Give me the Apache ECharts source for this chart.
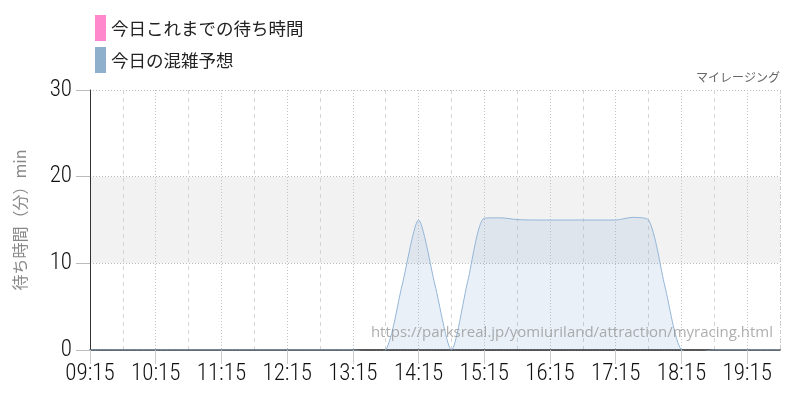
<!DOCTYPE html>
<html>
<head>
<meta charset="utf-8">
<script src="https://cdn.jsdelivr.net/npm/echarts@6/dist/echarts.min.js"></script>
<style>html,body{margin:0;padding:0;background:#fff}#c{width:800px;height:400px}</style>
</head>
<body>
<div id="c"></div>
<script>
// 15-minute time slots from 09:15 to 19:45
var times = ['09:15','09:30','09:45','10:00','10:15','10:30','10:45','11:00','11:15','11:30','11:45','12:00',
  '12:15','12:30','12:45','13:00','13:15','13:30','13:45','14:00','14:15','14:30','14:45','15:00',
  '15:15','15:30','15:45','16:00','16:15','16:30','16:45','17:00','17:15','17:30','17:45','18:00',
  '18:15','18:30','18:45','19:00','19:15','19:30','19:45'];
// 今日これまでの待ち時間 (no values shown)
var actualWait = [];
// 今日の混雑予想
var forecast = [0,0,0,0,0,0,0,0,0,0,0,0,
  0,0,0,0,0,-0.3,0,7.5,15,7.5,0,8,
  15.2,15.25,15.05,15,15,15,15,15,15,15.3,15,7.3,
  0,-0.25,0,0,0,0,0];
var yTicks = [0,10,20,30];
var seriesNames = ['今日これまでの待ち時間','今日の混雑予想'];

var numFont = '"Roboto Condensed","Liberation Sans Narrow","DejaVu Sans Condensed",sans-serif';
var jpFont = '"Noto Sans CJK JP","Noto Sans",sans-serif';

var chart = echarts.init(document.getElementById('c'));
chart.setOption({
  animation: false,
  backgroundColor: '#fff',
  grid: {left: 90, right: 20, top: 90, bottom: 50},
  legend: {
    orient: 'vertical', left: 95, top: 15, padding: 0,
    itemWidth: 11, itemHeight: 26, itemGap: 6,
    icon: 'rect',
    textStyle: {fontFamily: jpFont, fontSize: 17.5, color: '#222'},
    data: seriesNames
  },
  graphic: [
    {type: 'text', right: 20, top: 71, style: {text: 'マイレージング', fontFamily: jpFont, fontSize: 12, fill: '#666'}},
    {type: 'text', right: 27, top: 325, z: 100, style: {text: 'https://parksreal.jp/yomiuriland/attraction/myracing.html', fontFamily: '"Open Sans","Noto Sans",sans-serif', fontSize: 15, fill: 'rgba(140,140,140,0.7)'}}
  ],
  xAxis: [{
    type: 'category', data: times, boundaryGap: false,
    axisLine: {lineStyle: {color: '#222', width: 1.5}},
    axisTick: {show: true, length: 14, lineStyle: {color: '#ccc'}, interval: function(i){return i % 4 === 0;}},
    axisLabel: {interval: function(i){return i % 4 === 0;}, margin: 13, fontFamily: numFont, fontWeight: 300, fontSize: 23, color: '#111'},
    splitLine: {show: true, interval: function(i){return i % 4 === 2;}, lineStyle: {color: '#d4d4d4', type: [4,4]}}
  },{
    type: 'category', data: times, boundaryGap: false, position: 'bottom',
    axisLine: {show: false}, axisTick: {show: false}, axisLabel: {show: false},
    splitLine: {show: true, interval: function(i){return i % 4 === 0 || i === times.length - 1;}, lineStyle: {color: '#c4c4c4', type: [1,2]}}
  }],
  yAxis: {
    type: 'value', min: yTicks[0], max: yTicks[yTicks.length-1], interval: 10,
    name: '待ち時間（分）min', nameLocation: 'middle', nameRotate: 90, nameGap: 62,
    nameTextStyle: {fontFamily: jpFont, fontSize: 16, color: '#888'},
    axisLine: {show: true, lineStyle: {color: '#333', width: 1}},
    axisTick: {show: true, length: 14, lineStyle: {color: '#bbb'}},
    axisLabel: {margin: 18, fontFamily: numFont, fontWeight: 300, fontSize: 23, color: '#111'},
    splitLine: {show: true, lineStyle: {color: '#bbb', type: [1,2]}},
    splitArea: {show: true, areaStyle: {color: ['rgba(0,0,0,0)', '#f2f2f2']}}
  },
  series: [{
    name: seriesNames[0], type: 'line', data: actualWait, color: '#ff88cc', symbol: 'none'
  },{
    name: seriesNames[1], type: 'line', data: forecast, color: '#8fb0cc',
    smooth: 0.25, symbol: 'none',
    lineStyle: {color: '#94b6d8', width: 1},
    areaStyle: {color: 'rgba(120,160,200,0.22)'}
  }]
});
</script>
</body>
</html>
